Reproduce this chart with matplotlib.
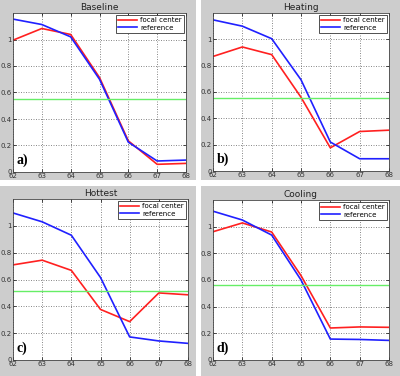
import matplotlib
matplotlib.use("Agg")
import matplotlib.pyplot as plt
from matplotlib.patches import Rectangle

x = [62, 63, 64, 65, 66, 67, 68]
titles = ["Baseline", "Heating", "Hottest", "Cooling"]
panel_labels = ["a)", "b)", "c)", "d)"]

focal_baseline = [0.995, 1.083, 1.038, 0.713, 0.235, 0.058, 0.065]
ref_baseline = [1.154, 1.113, 1.02, 0.70, 0.225, 0.083, 0.09]
thr_baseline = 0.554

focal_heating = [0.87, 0.942, 0.884, 0.56, 0.176, 0.30, 0.31]
ref_heating = [1.148, 1.10, 1.005, 0.693, 0.22, 0.093, 0.093]
thr_heating = 0.555

focal_hottest = [0.709, 0.744, 0.668, 0.377, 0.286, 0.50, 0.486]
ref_hottest = [1.096, 1.03, 0.93, 0.615, 0.172, 0.142, 0.124]
thr_hottest = 0.511

focal_cooling = [0.962, 1.028, 0.96, 0.633, 0.24, 0.248, 0.245]
ref_cooling = [1.116, 1.05, 0.937, 0.60, 0.157, 0.154, 0.147]
thr_cooling = 0.565

focal = [focal_baseline, focal_heating, focal_hottest, focal_cooling]
ref = [ref_baseline, ref_heating, ref_hottest, ref_cooling]
thr = [thr_baseline, thr_heating, thr_hottest, thr_cooling]

W, H = 400, 376
fig = plt.figure(figsize=(4, 3.76), dpi=100, facecolor="white")

# gray panel backgrounds (pixel boxes: x0, y0, x1, y1 from top-left)
panels = [(0, 0, 196, 180), (201, 0, 400, 180), (0, 186, 196, 376), (201, 186, 400, 376)]
for (x0, y0, x1, y1) in panels:
    fig.patches.append(Rectangle((x0 / W, 1 - y1 / H), (x1 - x0) / W, (y1 - y0) / H,
                                 transform=fig.transFigure, facecolor="#cdcdcd",
                                 edgecolor="none", zorder=-10))

axes_px = [(13, 13, 186, 172), (213, 13, 389, 171), (13, 199, 188, 360), (213, 200, 389, 360)]

for i, (l, t, r, b) in enumerate(axes_px):
    ax = fig.add_axes([l / W, 1 - b / H, (r - l) / W, (b - t) / H])
    ax.set_zorder(5)
    ax.set_facecolor("white")
    ax.plot(x, focal[i], color="#ff2020", lw=1.2, label="focal center")
    ax.plot(x, ref[i], color="#2020ff", lw=1.2, label="reference")
    ax.axhline(thr[i], color="#66ee66", lw=1.0)
    ax.set_xlim(62, 68)
    ax.set_ylim(0, 1.2)
    ax.set_xticks(x)
    ax.set_yticks([0, 0.2, 0.4, 0.6, 0.8, 1.0])
    ax.set_yticklabels(["0", "0.2", "0.4", "0.6", "0.8", "1"])
    ax.tick_params(direction="in", length=2, width=0.5, labelsize=5, pad=1,
                   labelcolor="#333333", top=True, right=True)
    ax.grid(True, color="#777777", linestyle=(0, (1.2, 1.8)), lw=0.6)
    for s in ax.spines.values():
        s.set_linewidth(0.6)
        s.set_color("#444444")
    ax.set_title(titles[i], fontsize=6.5, pad=2, color="#222222")
    leg = ax.legend(loc="upper right", fontsize=5, frameon=True, fancybox=False,
                    borderpad=0.3, handlelength=2.8, handletextpad=0.4,
                    labelspacing=0.2, borderaxespad=0.3, framealpha=1)
    leg.get_frame().set_edgecolor("#333333")
    leg.get_frame().set_linewidth(0.6)
    ax.text(0.02, 0.03, panel_labels[i], transform=ax.transAxes, fontsize=10,
            fontweight="bold", family="Liberation Serif", ha="left", va="bottom")

fig.savefig("out.png", dpi=100, facecolor="white")
